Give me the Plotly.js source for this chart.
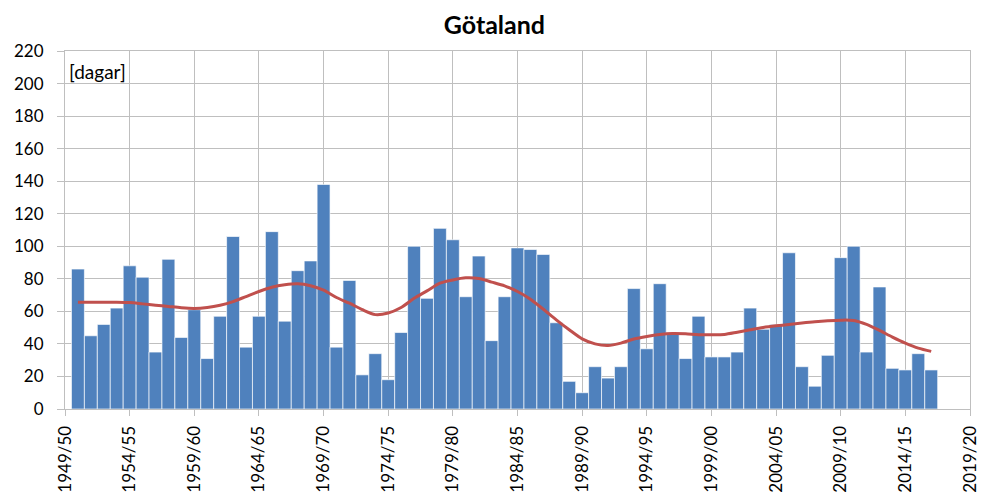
<!DOCTYPE html>
<html>
<head>
<meta charset="utf-8">
<script src="https://cdn.plot.ly/plotly-3.0.1.min.js"></script>
<style>html,body{margin:0;padding:0;background:#fff;}#chart{width:981px;height:495px;}</style>
</head>
<body>
<div id="chart"></div>
<script>
// Axis categories (all seasons shown on the axis)
const axisSeasons = ["1949/50","1950/51","1951/52","1952/53","1953/54","1954/55","1955/56","1956/57","1957/58","1958/59",
"1959/60","1960/61","1961/62","1962/63","1963/64","1964/65","1965/66","1966/67","1967/68","1968/69",
"1969/70","1970/71","1971/72","1972/73","1973/74","1974/75","1975/76","1976/77","1977/78","1978/79",
"1979/80","1980/81","1981/82","1982/83","1983/84","1984/85","1985/86","1986/87","1987/88","1988/89",
"1989/90","1990/91","1991/92","1992/93","1993/94","1994/95","1995/96","1996/97","1997/98","1998/99",
"1999/00","2000/01","2001/02","2002/03","2003/04","2004/05","2005/06","2006/07","2007/08","2008/09",
"2009/10","2010/11","2011/12","2012/13","2013/14","2014/15","2015/16","2016/17","2017/18","2018/19",
"2019/20"];

// Seasons with data
const seasons = ["1950/51","1951/52","1952/53","1953/54","1954/55","1955/56","1956/57","1957/58","1958/59",
"1959/60","1960/61","1961/62","1962/63","1963/64","1964/65","1965/66","1966/67","1967/68","1968/69",
"1969/70","1970/71","1971/72","1972/73","1973/74","1974/75","1975/76","1976/77","1977/78","1978/79",
"1979/80","1980/81","1981/82","1982/83","1983/84","1984/85","1985/86","1986/87","1987/88","1988/89",
"1989/90","1990/91","1991/92","1992/93","1993/94","1994/95","1995/96","1996/97","1997/98","1998/99",
"1999/00","2000/01","2001/02","2002/03","2003/04","2004/05","2005/06","2006/07","2007/08","2008/09",
"2009/10","2010/11","2011/12","2012/13","2013/14","2014/15","2015/16","2016/17"];

// Number of days per season
const days = [86,45,52,62,88,81,35,92,44,61,
31,57,106,38,57,109,54,85,91,138,
38,79,21,34,18,47,100,68,111,104,
69,94,42,69,99,98,95,53,17,10,
26,19,26,74,37,77,47,31,57,32,
32,35,62,49,52,96,26,14,33,93,
100,35,75,25,24,34,24];

// Smoothed trend
const trend = [65.6,65.6,65.6,65.6,65.4,64.6,63.8,63.0,62.2,61.8,
62.4,63.8,66.0,69.1,72.2,74.8,76.3,76.9,75.7,73.0,
68.5,65.0,61.0,58.0,59.0,62.4,68.0,72.6,77.3,79.3,
80.6,80.2,78.0,75.7,72.2,67.5,61.3,54.8,48.7,43.1,
40.0,39.0,40.5,43.0,44.6,45.8,46.4,46.2,45.6,45.6,
45.8,47.2,48.7,50.1,51.1,51.9,52.8,53.6,54.2,54.6,
54.4,52.0,48.3,44.2,40.5,37.4,35.4];

const tickLabels = ["1949/50","1954/55","1959/60","1964/65","1969/70","1974/75","1979/80","1984/85",
"1989/90","1994/95","1999/00","2004/05","2009/10","2014/15","2019/20"];

const FONT = "Lato, 'Open Sans', sans-serif";
const GRID = "#BFBFBF";

const traces = [
  {
    type: "bar",
    x: seasons,
    y: days,
    width: 1,
    marker: {color: "#4F81BD", line: {color: "rgba(255,255,255,0.65)", width: 1}},
    hoverinfo: "x+y",
    showlegend: false
  },
  {
    type: "scatter",
    mode: "lines",
    x: seasons,
    y: trend,
    line: {color: "#C0504D", width: 3, shape: "spline", smoothing: 0.8},
    showlegend: false
  }
];

const layout = {
  width: 981,
  height: 495,
  margin: {l: 65, r: 11, t: 51, b: 86},
  paper_bgcolor: "#ffffff",
  plot_bgcolor: "#ffffff",
  font: {family: FONT, size: 16, color: "#000"},
  title: {text: "<b>Götaland</b>", x: 0.504, xanchor: "center", y: 0.948, yanchor: "middle",
          font: {family: FONT, size: 25, color: "#000"}},
  bargap: 0,
  xaxis: {
    type: "category",
    categoryorder: "array",
    categoryarray: axisSeasons,
    range: [0, 70],
    tickmode: "array",
    tickvals: tickLabels,
    ticktext: tickLabels,
    tickangle: -90,
    ticks: "outside",
    ticklen: 6,
    tickcolor: GRID,
    ticklabelstandoff: 3,
    showgrid: true,
    gridcolor: GRID,
    gridwidth: 1,
    showline: true,
    linecolor: GRID,
    mirror: true,
    tickfont: {family: FONT, size: 17, color: "#000"},
    fixedrange: true
  },
  yaxis: {
    range: [0, 220],
    dtick: 20,
    tick0: 0,
    ticks: "outside",
    ticklen: 7,
    tickcolor: GRID,
    showgrid: true,
    gridcolor: GRID,
    gridwidth: 1,
    zeroline: false,
    showline: true,
    linecolor: GRID,
    mirror: true,
    ticklabelstandoff: 10,
    tickfont: {family: FONT, size: 17, color: "#000"},
    fixedrange: true
  },
  annotations: [
    {
      text: "[dagar]",
      xref: "paper", yref: "paper",
      x: 0, y: 1,
      xanchor: "left", yanchor: "top",
      xshift: 2, yshift: -7,
      showarrow: false,
      font: {family: FONT, size: 19, color: "#000"}
    }
  ]
};

Plotly.newPlot("chart", traces, layout, {displayModeBar: false, staticPlot: true});
</script>
</body>
</html>
